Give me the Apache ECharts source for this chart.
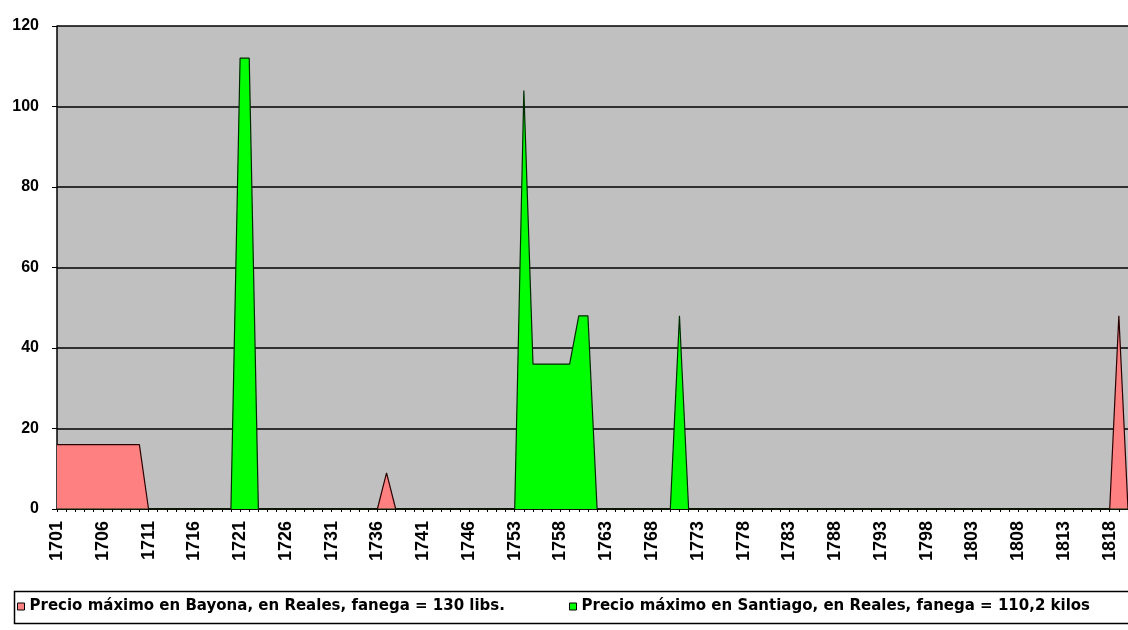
<!DOCTYPE html>
<html>
<head>
<meta charset="utf-8">
<script src="https://cdn.jsdelivr.net/npm/echarts@6/dist/echarts.min.js"></script>
<style>
html,body{margin:0;padding:0;background:#fff;}
#chart{width:1128px;height:630px;}
</style>
</head>
<body>
<div id="chart"></div>
<script>
// Categories (years as shown on the axis)
var years = [
 '1701','1702','1703','1704','1705','1706','1707','1708','1709','1710',
 '1711','1712','1713','1714','1715','1716','1717','1718','1719','1720',
 '1721','1722','1723','1724','1725','1726','1727','1728','1729','1730',
 '1731','1732','1733','1734','1735','1736','1737','1738','1739','1740',
 '1741','1742','1743','1744','1745','1746','1747','1748','1749','1750',
 '1753','1754','1755','1756','1757','1758','1759','1760','1761','1762',
 '1763','1764','1765','1766','1767','1768','1769','1770','1771','1772',
 '1773','1774','1775','1776','1777','1778','1779','1780','1781','1782',
 '1783','1784','1785','1786','1787','1788','1789','1790','1791','1792',
 '1793','1794','1795','1796','1797','1798','1799','1800','1801','1802',
 '1803','1804','1805','1806','1807','1808','1809','1810','1811','1812',
 '1813','1814','1815','1816','1817','1818','1819','1820'
];

var nameBayona = 'Precio máximo en Bayona, en Reales, fanega = 130 libs.';
var nameSantiago = 'Precio máximo en Santiago, en Reales, fanega = 110,2 kilos';

// Precio máximo en Bayona (reales)
var bayona = [
 16,16,16,16,16,16,16,16,16,16,
 0,0,0,0,0,0,0,0,0,0,
 0,0,0,0,0,0,0,0,0,0,
 0,0,0,0,0,0,9,0,0,0,
 0,0,0,0,0,0,0,0,0,0,
 0,0,0,0,0,0,0,0,0,0,
 0,0,0,0,0,0,0,0,0,0,
 0,0,0,0,0,0,0,0,0,0,
 0,0,0,0,0,0,0,0,0,0,
 0,0,0,0,0,0,0,0,0,0,
 0,0,0,0,0,0,0,0,0,0,
 0,0,0,0,0,0,48,0
];

// Precio máximo en Santiago (reales)
var santiago = [
 0,0,0,0,0,0,0,0,0,0,
 0,0,0,0,0,0,0,0,0,0,
 112,112,0,0,0,0,0,0,0,0,
 0,0,0,0,0,0,0,0,0,0,
 0,0,0,0,0,0,0,0,0,0,
 0,104,36,36,36,36,36,48,48,0,
 0,0,0,0,0,0,0,0,48,0,
 0,0,0,0,0,0,0,0,0,0,
 0,0,0,0,0,0,0,0,0,0,
 0,0,0,0,0,0,0,0,0,0,
 0,0,0,0,0,0,0,0,0,0,
 0,0,0,0,0,0,0,0
];

var yTicks = [0, 20, 40, 60, 80, 100, 120];

var chart = echarts.init(document.getElementById('chart'), null, {renderer: 'canvas'});
var legendText = {fontFamily: 'DejaVu Sans', fontWeight: 'bold', fontSize: 15, color: '#000'};
chart.setOption({
  animation: false,
  backgroundColor: '#ffffff',
  grid: {
    left: 57, right: 0, top: 26, bottom: 121,
    show: true, backgroundColor: '#c0c0c0', borderWidth: 0
  },
  legend: [
    {data: [nameBayona], left: 12, top: 594, icon: 'rect', itemWidth: 7, itemHeight: 7,
     itemStyle: {borderColor: '#000', borderWidth: 1}, textStyle: legendText},
    {data: [nameSantiago], left: 564, top: 594, icon: 'rect', itemWidth: 7, itemHeight: 7,
     itemStyle: {borderColor: '#000', borderWidth: 1}, textStyle: legendText}
  ],
  graphic: [{
    type: 'rect', left: 12, top: 589, silent: true,
    shape: {width: 1130, height: 32},
    style: {fill: 'none', stroke: '#000', lineWidth: 1.5}
  }],
  xAxis: {
    type: 'category',
    data: years,
    boundaryGap: false,
    axisLine: {show: true, lineStyle: {color: '#000', width: 1.5}},
    axisTick: {show: true, interval: 0, length: 3, lineStyle: {color: '#000'}},
    axisLabel: {
      interval: 4, rotate: 90, margin: 12,
      fontFamily: 'Liberation Sans', fontWeight: 'bold', fontSize: 18, color: '#000'
    },
    splitLine: {show: false}
  },
  yAxis: {
    type: 'value',
    min: yTicks[0], max: yTicks[yTicks.length - 1], interval: 20,
    axisLine: {show: true, lineStyle: {color: '#000', width: 1.5}},
    axisTick: {show: true, length: 5, lineStyle: {color: '#000'}},
    axisLabel: {
      margin: 18, fontFamily: 'Liberation Sans', fontWeight: 'bold', fontSize: 16, color: '#000'
    },
    splitLine: {show: true, lineStyle: {color: '#000', width: 1.5}}
  },
  series: [
    {
      name: nameBayona, type: 'line', data: bayona,
      symbol: 'none', z: 2,
      itemStyle: {color: '#ff8080'},
      lineStyle: {color: '#2a0000', width: 1.2},
      areaStyle: {color: '#ff8080', opacity: 1}
    },
    {
      name: nameSantiago, type: 'line', data: santiago,
      symbol: 'none', z: 3,
      itemStyle: {color: '#00ff00'},
      lineStyle: {color: '#002a00', width: 1.2},
      areaStyle: {color: '#00ff00', opacity: 1}
    }
  ]
});
</script>
</body>
</html>
